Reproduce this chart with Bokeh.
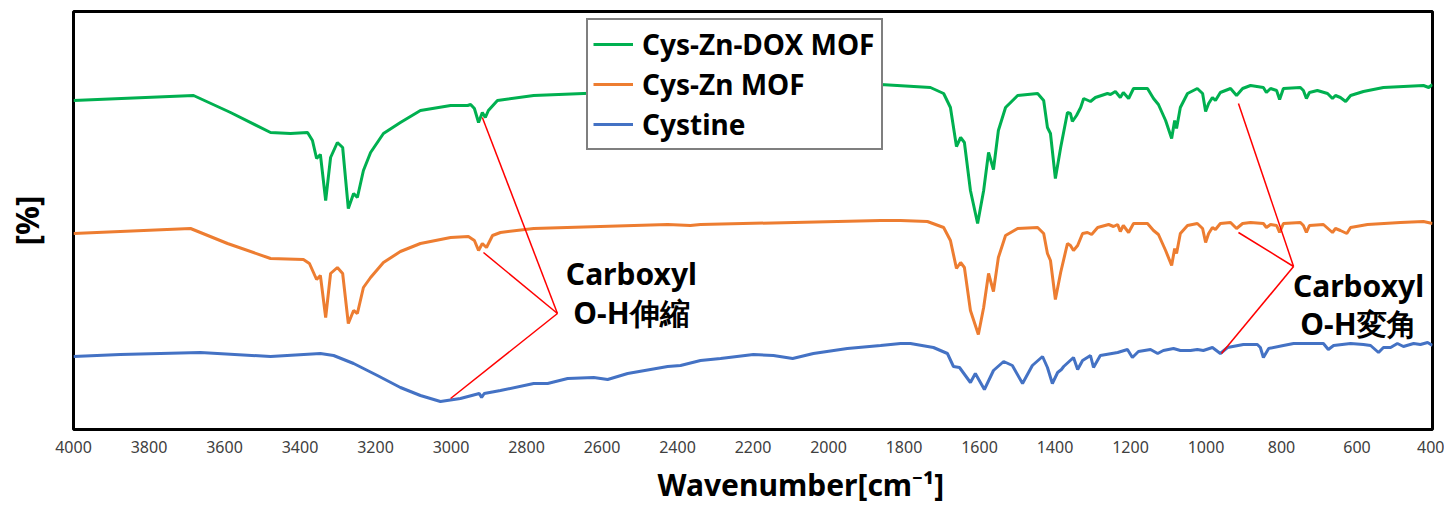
from bokeh.plotting import figure
from bokeh.models import Range1d, FixedTicker, Label, Legend, LegendItem, Title
from bokeh.embed import file_html
from bokeh.resources import INLINE

# FT-IR spectra, stacked with offsets (arbitrary transmittance units)
dox_wn = [4000, 3682, 3584, 3478, 3425, 3380, 3367, 3356, 3346, 3332, 3319, 3301, 3287, 3272,
          3258, 3248, 3232, 3213, 3179, 3134, 3081, 3001, 2956, 2948, 2938, 2927, 2917, 2909,
          2901, 2877, 2781, 2649, 1862, 1730, 1695, 1677, 1661, 1650, 1640, 1624, 1605, 1589,
          1576, 1563, 1550, 1531, 1499, 1446, 1430, 1420, 1412, 1399, 1385, 1367, 1359, 1354,
          1343, 1332, 1324, 1306, 1293, 1261, 1253, 1240, 1227, 1219, 1205, 1192, 1155, 1139,
          1126, 1107, 1091, 1083, 1078, 1068, 1049, 1023, 1009, 1001, 993, 983, 975, 962, 935,
          919, 903, 882, 848, 840, 829, 813, 805, 795, 750, 742, 734, 726, 705, 678, 665, 657,
          644, 630, 617, 583, 530, 477, 424, 410, 400]
dox_t = [329, 334, 317, 297, 296, 297, 289, 271, 275, 229, 272, 287, 282, 221,
         236, 232, 259, 277, 296, 307, 319, 324, 324, 325, 321, 307, 317, 312,
         319, 329, 334, 336, 345, 342, 336, 322, 283, 292, 287, 239, 206, 239,
         277, 260, 299, 322, 334, 336, 329, 302, 296, 251, 282, 317, 316, 308,
         314, 322, 331, 328, 332, 336, 335, 338, 332, 337, 331, 341, 341, 331,
         325, 309, 291, 309, 301, 322, 336, 341, 336, 318, 326, 332, 329, 337, 341,
         334, 341, 344, 342, 337, 341, 339, 330, 341, 342, 339, 331, 337, 339, 336, 331, 334,
         332, 328, 334, 338, 342, 343, 344, 342, 345]

mof_wn = [4000, 3690, 3592, 3478, 3391, 3375, 3356, 3346, 3332, 3319, 3301, 3287, 3272, 3258,
          3248, 3232, 3213, 3179, 3134, 3081, 3001, 2954, 2938, 2927, 2917, 2906, 2890, 2869,
          2781, 2604, 2426, 2366, 2339, 1862, 1809, 1738, 1695, 1677, 1661, 1650, 1640, 1624,
          1603, 1589, 1576, 1563, 1550, 1531, 1499, 1446, 1430, 1420, 1412, 1399, 1385, 1367,
          1359, 1351, 1340, 1327, 1314, 1303, 1287, 1258, 1245, 1234, 1227, 1219, 1205, 1192,
          1155, 1139, 1126, 1107, 1091, 1083, 1078, 1068, 1049, 1023, 1009, 1001, 993, 983,
          975, 962, 935, 919, 903, 882, 848, 840, 829, 813, 805, 795, 750, 742, 734, 726, 689,
          665, 657, 644, 627, 617, 572, 485, 424, 400]
mof_t = [196, 201, 186, 171, 170, 166, 150, 154, 112, 156, 162, 156, 106, 119,
         116, 142, 152, 167, 178, 186, 192, 193, 189, 179, 186, 182, 194, 197,
         201, 203, 205, 204, 205, 209, 209, 208, 202, 189, 161, 167, 162, 119,
         95, 122, 156, 138, 172, 194, 201, 202, 196, 176, 169, 130, 157, 186,
         184, 179, 184, 196, 197, 195, 202, 205, 203, 205, 198, 204, 197, 206,
         206, 199, 195, 179, 164, 181, 176, 196, 204, 206, 201, 187, 196, 202,
         200, 206, 207, 201, 206, 207, 206, 202, 205, 204, 197, 206, 207, 204, 197, 204, 205,
         197, 201, 199, 196, 202, 205, 207, 208, 206]

cys_wn = [4000, 3876, 3664, 3478, 3346, 3311, 3258, 3195, 3134, 3081, 3028, 2975, 2925, 2919,
          2912, 2869, 2781, 2744, 2691, 2622, 2585, 2532, 2426, 2392, 2339, 2286, 2199, 2146,
          2095, 2040, 1950, 1862, 1809, 1783, 1722, 1685, 1669, 1653, 1624, 1611, 1587, 1563,
          1536, 1513, 1486, 1460, 1433, 1420, 1407, 1393, 1383, 1377, 1351, 1340, 1327, 1306,
          1298, 1280, 1234, 1208, 1195, 1179, 1147, 1128, 1113, 1086, 1068, 1041, 1023, 1007,
          983, 962, 943, 901, 864, 856, 848, 834, 795, 768, 750, 705, 689, 676, 662, 617, 583,
          564, 543, 530, 511, 493, 477, 450, 432, 413, 400]
cys_t = [73, 75, 77, 73, 76, 74, 66, 54, 42, 34, 28, 31, 36, 32,
         36, 39, 46, 46, 51, 52, 50, 56, 63, 64, 69, 71, 75, 74,
         71, 76, 81, 84, 86, 86, 82, 76, 63, 62, 47, 56, 40, 59,
         68, 64, 46, 64, 73, 62, 46, 57, 60, 63, 72, 60, 69, 74,
         62, 74, 77, 80, 72, 78, 80, 76, 79, 81, 79, 79, 80, 79,
         82, 76, 82, 85, 85, 82, 72, 81, 84, 86, 86, 86, 86, 80, 84, 86, 85,
         84, 77, 82, 82, 86, 83, 86, 85, 87, 84]

series_names = ["Cys-Zn-DOX MOF", "Cys-Zn MOF", "Cystine"]
series_colors = ["#00B050", "#ED7D31", "#4472C4"]
x_ticks = list(range(400, 4001, 200))
x_title = "Wavenumber[cm\u207b\u00b9]"

# Pointer lines to the carboxyl O-H bands
stretch_x = [[2718, 2917], [2718, 2914], [2718, 3001]]
stretch_y = [[116, 312], [116, 177], [116, 31]]
bend_x = [[768, 914], [768, 914], [768, 959]]
bend_y = [[163, 326], [163, 197], [163, 76]]

FONT = "Noto Sans"

p = figure(width=1444, height=516, output_backend="svg", toolbar_location=None,
           x_range=Range1d(4000, 400), y_range=Range1d(0, 418),
           min_border_left=73, min_border_right=12, min_border_top=11, min_border_bottom=87)
p.background_fill_color = "white"
p.border_fill_color = "white"
p.outline_line_color = "black"
p.outline_line_width = 3
p.xgrid.visible = False
p.ygrid.visible = False

# bottom axis: wavenumber tick labels only
ax = p.xaxis[0]
ax.ticker = FixedTicker(ticks=x_ticks)
ax.axis_line_color = None
ax.major_tick_line_color = None
ax.minor_tick_line_color = None
ax.major_tick_out = 0
ax.major_tick_in = 0
ax.major_label_text_font = FONT
ax.major_label_text_font_size = "16px"
ax.major_label_text_color = "#404040"
ax.major_label_standoff = 11

# left axis: no ticks, only the title
ay = p.yaxis[0]
ay.ticker = FixedTicker(ticks=[])
ay.axis_line_color = None
ay.minor_tick_line_color = None
ay.major_tick_in = 0
ay.major_tick_out = 0
ay.major_label_standoff = 0
ay.axis_label = "[%]"
ay.axis_label_standoff = 26
ay.axis_label_text_font = FONT
ay.axis_label_text_font_size = "32px"
ay.axis_label_text_font_style = "bold"
ay.axis_label_text_color = "black"

# x title below the tick labels
p.add_layout(Title(text=x_title, align="left", offset=584, text_font=FONT,
                   text_font_size="30px", text_font_style="bold", text_color="black",
                   standoff=12), "below")

r_dox = p.line(dox_wn, dox_t, line_color=series_colors[0], line_width=3)
r_mof = p.line(mof_wn, mof_t, line_color=series_colors[1], line_width=3)
r_cys = p.line(cys_wn, cys_t, line_color=series_colors[2], line_width=3)

p.multi_line(stretch_x, stretch_y, line_color="#FF0000", line_width=1.5)
p.multi_line(bend_x, bend_y, line_color="#FF0000", line_width=1.5)

for x, y, t in [(2522, 156, "Carboxyl"), (2522, 117, "O-H伸縮"),
                (596, 144, "Carboxyl"), (596, 106, "O-H変角")]:
    p.add_layout(Label(x=x, y=y, text=t, text_align="center", text_baseline="alphabetic",
                       text_font=FONT, text_font_size="30px", text_font_style="bold",
                       text_color="black"))

legend = Legend(items=[LegendItem(label=series_names[0], renderers=[r_dox]),
                       LegendItem(label=series_names[1], renderers=[r_mof]),
                       LegendItem(label=series_names[2], renderers=[r_cys])],
                location=(513, 279))
legend.label_text_font = FONT
legend.label_text_font_size = "28px"
legend.label_text_font_style = "bold"
legend.label_text_color = "black"
legend.border_line_color = "black"
legend.border_line_width = 2
legend.background_fill_color = "white"
legend.background_fill_alpha = 1.0
legend.padding = 5
legend.spacing = 2
legend.glyph_width = 40
legend.glyph_height = 30
legend.label_height = 30
legend.label_width = 234
legend.label_standoff = 9
legend.margin = 0
p.add_layout(legend, "center")

open("out.html", "w").write(file_html(p, INLINE))
